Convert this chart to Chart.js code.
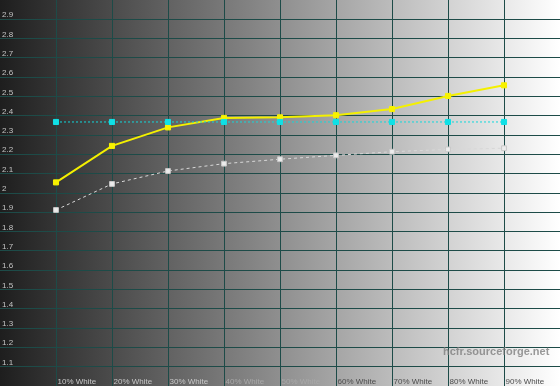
<!DOCTYPE html>
<html>
<head>
<meta charset="utf-8">
<script src="https://cdn.jsdelivr.net/npm/chart.js@4.4.1/dist/chart.umd.min.js"></script>
<style>
  html, body { margin: 0; padding: 0; background: #ffffff; }
  #box { width: 560px; height: 386px; }
</style>
</head>
<body>
<div id="box"><canvas id="myChart"></canvas></div>
<script>
// Gray levels (x position = index on a 0..10 scale)
var categories = ['10% White', '20% White', '30% White', '40% White', '50% White',
                  '60% White', '70% White', '80% White', '90% White'];
var levels = [1, 2, 3, 4, 5, 6, 7, 8, 9];

// Gamma values
var gammaMeasured = [2.055, 2.244, 2.340, 2.389, 2.392, 2.403, 2.435, 2.503, 2.558];
var gammaTarget   = [2.368, 2.368, 2.368, 2.368, 2.368, 2.368, 2.368, 2.368, 2.368];
var gammaGrey     = [1.912, 2.047, 2.114, 2.152, 2.175, 2.195, 2.214, 2.226, 2.232];

// Tick labels on the left side
var yTickLabels = ['1.1', '1.2', '1.3', '1.4', '1.5', '1.6', '1.7', '1.8', '1.9', '2',
                   '2.1', '2.2', '2.3', '2.4', '2.5', '2.6', '2.7', '2.8', '2.9'];

var gridColor = '#1d4b48';

function toPoints(values) {
    return values.map(function (v, i) { return { x: levels[i], y: v }; });
}

// Gray ramp behind the plot
var backdrop = {
    id: 'backdrop',
    beforeDraw: function (chart) {
        var ctx = chart.ctx, a = chart.chartArea;
        var g = ctx.createLinearGradient(a.left, 0, a.right, 0);
        g.addColorStop(0, '#1e1e1e');
        g.addColorStop(0.5, '#8f8f8f');
        g.addColorStop(1, '#ffffff');
        ctx.save();
        ctx.fillStyle = g;
        ctx.fillRect(a.left, a.top, a.width, a.height);
        ctx.restore();
    }
};

// Labels drawn inside the plot area, like the HCFR window
var insideLabels = {
    id: 'insideLabels',
    afterDraw: function (chart) {
        var ctx = chart.ctx;
        var xs = chart.scales.x, ys = chart.scales.y;
        ctx.save();
        ctx.font = '8px "Liberation Sans", Arial, sans-serif';
        ctx.textAlign = 'left';
        ctx.textBaseline = 'alphabetic';

        ctx.fillStyle = '#c4c4c4';
        yTickLabels.forEach(function (t) {
            var y = ys.getPixelForValue(parseFloat(t));
            ctx.fillText(t, 2, y - 2);
        });

        categories.forEach(function (c, i) {
            var x = xs.getPixelForValue(levels[i]);
            ctx.fillStyle = levels[i] < 4 ? '#c8c8c8' : (levels[i] < 6 ? '#a8a8a8' : '#4c4c4c');
            ctx.fillText(c, x + 1.5, 383.5);
        });

        // watermark
        ctx.font = 'bold 11px "Liberation Sans", Arial, sans-serif';
        ctx.fillStyle = 'rgba(120,120,120,0.75)';
        ctx.fillText('hcfr.sourceforge.net', 443, 355);
        ctx.restore();
    }
};

function edgeSafe(min, max) {
    return function (c) {
        var v = c.tick ? c.tick.value : 0;
        if (Math.abs(v - min) < 1e-6 || Math.abs(v - max) < 1e-6) return 'rgba(0,0,0,0)';
        return gridColor;
    };
}

var ctx = document.getElementById('myChart').getContext('2d');
var chart = new Chart(ctx, {
    type: 'line',
    data: {
        datasets: [{
            label: 'Target',
            data: toPoints(gammaTarget),
            borderColor: '#11d8dc',
            borderWidth: 1,
            borderDash: [2, 2],
            pointStyle: 'rect',
            pointRadius: 3.6,
            pointBorderWidth: 1,
            pointBackgroundColor: '#10e0e6',
            pointBorderColor: '#10e0e6',
            order: 0
        }, {
            label: 'Measured',
            data: toPoints(gammaMeasured),
            borderColor: '#f4f000',
            borderWidth: 2,
            pointStyle: 'rect',
            pointRadius: 3.6,
            pointBorderWidth: 1,
            pointBackgroundColor: '#f8f200',
            pointBorderColor: '#f8f200',
            order: 1
        }, {
            label: 'Grey',
            data: toPoints(gammaGrey),
            borderColor: '#d8d8d8',
            borderWidth: 1,
            borderDash: [3, 3],
            pointStyle: 'rect',
            pointRadius: 3.4,
            pointBorderWidth: 1,
            pointBackgroundColor: '#ececec',
            pointBorderColor: '#c8c8c8',
            order: 2
        }]
    },
    options: {
        responsive: true,
        maintainAspectRatio: false,
        animation: false,
        layout: { padding: 0, autoPadding: false },
        plugins: {
            legend: { display: false },
            tooltip: { enabled: false }
        },
        scales: {
            x: {
                type: 'linear',
                min: 0,
                max: 10,
                ticks: { display: false, stepSize: 1 },
                border: { display: false },
                grid: { color: edgeSafe(0, 10), lineWidth: 1, drawTicks: false }
            },
            y: {
                type: 'linear',
                min: 1,
                max: 3,
                ticks: { display: false, stepSize: 0.1 },
                border: { display: false },
                grid: { color: edgeSafe(1, 3), lineWidth: 1, drawTicks: false }
            }
        }
    },
    plugins: [backdrop, insideLabels]
});
</script>
</body>
</html>
